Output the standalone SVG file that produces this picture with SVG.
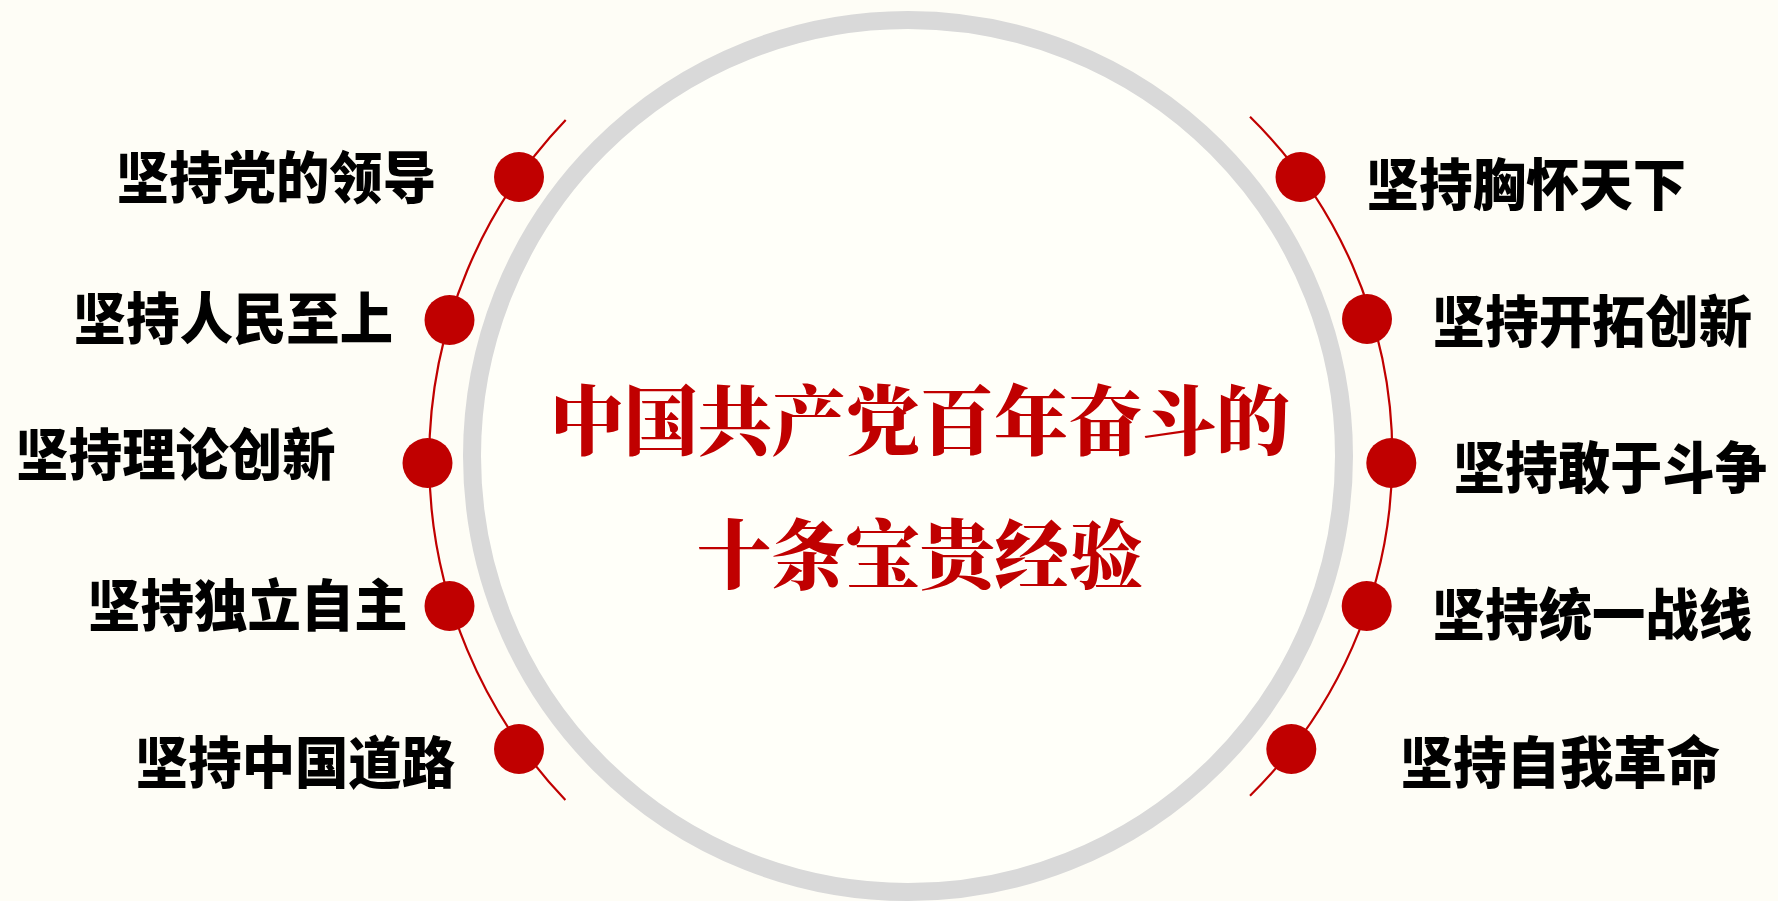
<svg xmlns="http://www.w3.org/2000/svg" width="1778" height="901" viewBox="0 0 1778 901">
<style>
.lbl{font-family:"Noto Sans CJK SC","Noto Sans",sans-serif;font-weight:900;font-size:56px;fill:#000}
.ttl{font-family:"Noto Serif CJK SC","Noto Sans CJK SC",serif;font-weight:900;font-size:76px;fill:#C00000;text-anchor:middle}
.dot{fill:#C00000}
.arc{fill:none;stroke:#C00000;stroke-width:2.2}
</style>
<rect x="0" y="0" width="1778" height="901" fill="#FEFDF6"/>
<g id="ring">
<circle cx="908" cy="456" r="436" fill="#FFFFF9" stroke="#D9D9D9" stroke-width="18"/>
</g>
<g id="connectors">
<path class="arc" d="M565.7,120 A492,492 0 0,0 565.4,800"/>
<path class="arc" d="M1250,116.7 A476,476 0 0,1 1250,795.7"/>
</g>
<g id="title">
<text class="ttl" x="920" y="449" textLength="740" lengthAdjust="spacingAndGlyphs">中国共产党百年奋斗的</text>
<text class="ttl" x="920" y="583" textLength="446" lengthAdjust="spacingAndGlyphs">十条宝贵经验</text>
</g>
<g id="node-l1"><circle class="dot" cx="519" cy="177" r="25"/><text class="lbl" x="116" y="197.5" textLength="320" lengthAdjust="spacingAndGlyphs">坚持党的领导</text></g>
<g id="node-l2"><circle class="dot" cx="449.5" cy="320" r="25"/><text class="lbl" x="73" y="338.5" textLength="320" lengthAdjust="spacingAndGlyphs">坚持人民至上</text></g>
<g id="node-l3"><circle class="dot" cx="427.5" cy="463" r="25"/><text class="lbl" x="15.5" y="475" textLength="320" lengthAdjust="spacingAndGlyphs">坚持理论创新</text></g>
<g id="node-l4"><circle class="dot" cx="449.5" cy="606" r="25"/><text class="lbl" x="87.5" y="626" textLength="320" lengthAdjust="spacingAndGlyphs">坚持独立自主</text></g>
<g id="node-l5"><circle class="dot" cx="519" cy="749" r="25"/><text class="lbl" x="135" y="782.5" textLength="320" lengthAdjust="spacingAndGlyphs">坚持中国道路</text></g>
<g id="node-r1"><circle class="dot" cx="1300.5" cy="177" r="25"/><text class="lbl" x="1366" y="205" textLength="320" lengthAdjust="spacingAndGlyphs">坚持胸怀天下</text></g>
<g id="node-r2"><circle class="dot" cx="1367" cy="319" r="25"/><text class="lbl" x="1432" y="341.5" textLength="320" lengthAdjust="spacingAndGlyphs">坚持开拓创新</text></g>
<g id="node-r3"><circle class="dot" cx="1391.3" cy="463" r="25"/><text class="lbl" x="0" y="0" transform="translate(1453,487.5) scale(0.935,1)">坚持敢于斗争</text></g>
<g id="node-r4"><circle class="dot" cx="1366.7" cy="606" r="25"/><text class="lbl" x="1432" y="635" textLength="320" lengthAdjust="spacingAndGlyphs">坚持统一战线</text></g>
<g id="node-r5"><circle class="dot" cx="1291.3" cy="749" r="25"/><text class="lbl" x="1400" y="782.5" textLength="320" lengthAdjust="spacingAndGlyphs">坚持自我革命</text></g>
</svg>
